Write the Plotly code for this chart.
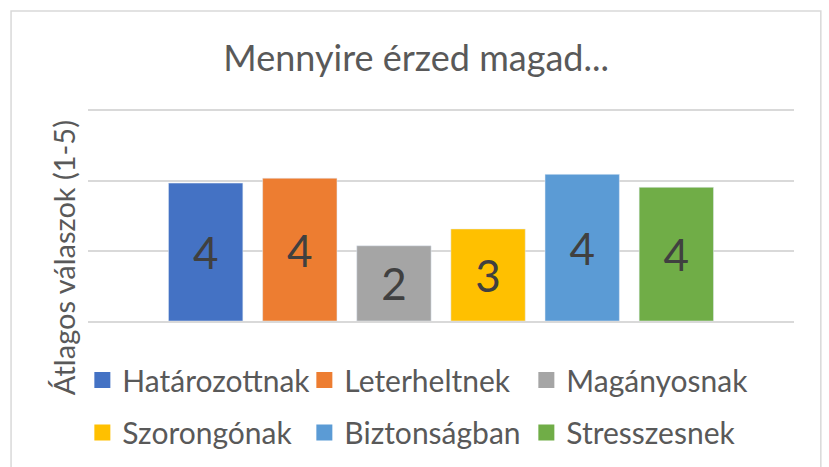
import plotly.graph_objects as go

# Survey averages (1-5 scale)
categories = ["Határozottnak", "Leterheltnek", "Magányosnak",
              "Szorongónak", "Biztonságban", "Stresszesnek"]
values = [3.94, 4.08, 2.15, 2.63, 4.19, 3.82]
colors = ["#4472C4", "#ED7D31", "#A5A5A5", "#FFC000", "#5B9BD5", "#70AD47"]
y_ticks = [0, 2, 4, 6]

FONT = "Lato, Open Sans, sans-serif"

fig = go.Figure()

for name, val, col in zip(categories, values, colors):
    fig.add_trace(go.Bar(x=[""], y=[val], name=name, marker_color=col,
                         texttemplate="%{y:.0f}", textposition="inside",
                         insidetextanchor="middle",
                         textfont=dict(size=44, color="#404040", family=FONT),
                         showlegend=False, hoverinfo="name+y"))

# legend squares (bigger than the default bar symbol), split in two rows
for i, (name, col) in enumerate(zip(categories, colors)):
    fig.add_trace(go.Scatter(x=[None], y=[None], mode="markers", name=name,
                             marker=dict(symbol="square", size=16, color=col),
                             legend="legend" if i < 3 else "legend2"))

leg = dict(orientation="h", xanchor="left", yanchor="middle", x=-0.008,
           entrywidth=177, entrywidthmode="pixels",
           font=dict(size=30, color="#595959", family=FONT),
           bgcolor="rgba(0,0,0,0)")

fig.update_layout(
    width=829, height=467,
    margin=dict(l=88, r=35, t=111, b=146, autoexpand=False),
    paper_bgcolor="white", plot_bgcolor="white",
    barmode="group", bargap=0.2, bargroupgap=0.21,
    title=dict(text="Mennyire érzed magad...", x=0.502, xanchor="center",
               y=0.876, yanchor="middle", yref="container",
               font=dict(size=36, color="#595959", family=FONT)),
    legend=dict(leg, y=-0.281),
    legend2=dict(leg, y=-0.531),
    # axis lines double as the gridlines at 0 and 6
    xaxis=dict(showticklabels=False, showgrid=False, zeroline=False,
               showline=True, mirror=True, linecolor="#d9d9d9",
               linewidth=1.5),
    yaxis=dict(range=[0, 6], tickvals=y_ticks, showticklabels=False,
               gridcolor="#d9d9d9", gridwidth=1.5, zeroline=False,
               showline=False),
    showlegend=True,
)

fig.add_annotation(text="Átlagos válaszok (1-5)", textangle=-90,
                   xref="paper", yref="paper", x=-0.035, y=0.3,
                   xanchor="center", yanchor="middle", showarrow=False,
                   font=dict(size=29, color="#595959", family=FONT))

# outer chart border
fig.add_shape(type="rect", xref="paper", yref="paper",
              x0=-0.109, x1=1.038, y0=-0.75, y1=1.476,
              line=dict(color="#d9d9d9", width=1.5), layer="below")

# drop the default 8px body margin so the figure sits at the page corner
fig.write_html("out.html", config={"displayModeBar": False},
               post_script="document.body.style.margin='0';")
